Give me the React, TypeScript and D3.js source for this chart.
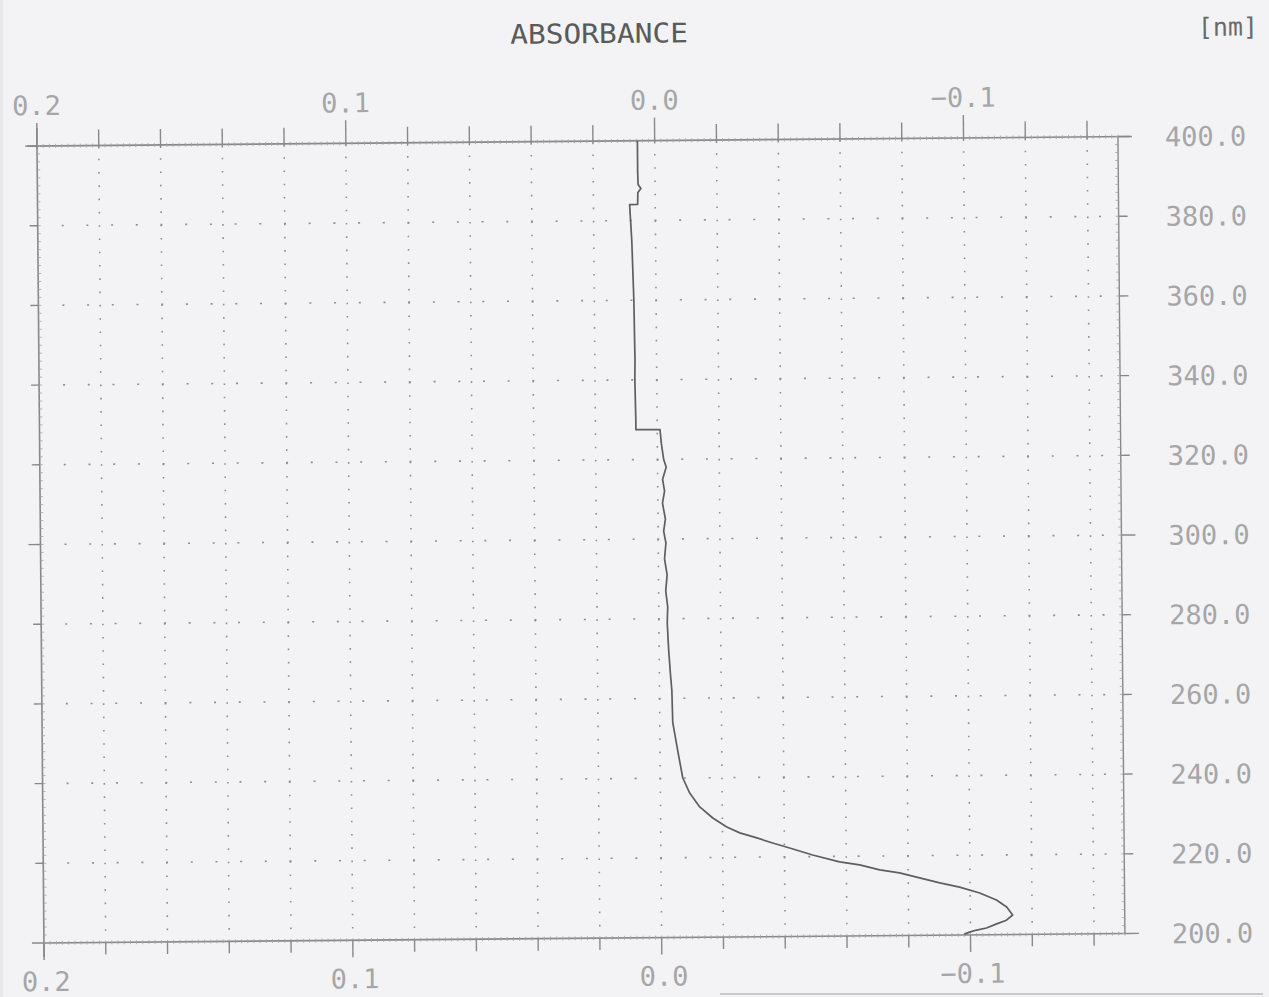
import React from 'react';
import * as d3 from 'd3';

// ---- data ----
const wavelengths = [
  400, 392, 389, 388, 387, 384, 384, 375, 360, 345, 340, 330, 327.5, 327.5,
  324, 320, 318, 315, 312, 309, 305, 302, 299, 295, 291, 287, 283, 279, 272,
  266, 262, 254, 247, 240, 236.2, 232.7, 229.9, 227.6, 226.1, 224.8, 223.5,
  222.2, 220.4, 218.6, 217.8, 216.5, 215.7, 214.4, 213.1, 212.0, 210.5, 208.7,
  206.9, 204.9, 203.6, 202.7, 201.7, 201.2, 200.7, 200.2,
];
const absorbance = [
  0.0056, 0.0056, 0.0055, 0.0046, 0.0056, 0.0057, 0.0083, 0.0077, 0.0072, 0.0070,
  0.0071, 0.0069, 0.0069, -0.0009,
  -0.0013, -0.0020, -0.0028, -0.0016, -0.0022, -0.0015, -0.0024, -0.0018, -0.0025,
  -0.0020, -0.0028, -0.0023, -0.0029, -0.0027, -0.0031,
  -0.0036, -0.0040, -0.0042, -0.0057, -0.0073, -0.0095, -0.0127, -0.0169, -0.0214,
  -0.0256, -0.0311, -0.0362, -0.0417, -0.0491, -0.0578, -0.0643, -0.0708, -0.0772,
  -0.0837, -0.0902, -0.0966, -0.1031, -0.1085, -0.1118, -0.1137, -0.1117, -0.1085,
  -0.1052, -0.1020, -0.0997, -0.0980,
];
const xLabelValues = [0.2, 0.1, 0.0, -0.1];
const xLabels = ['0.2', '0.1', '0.0', '\u22120.1'];
const yLabelValues = [400, 380, 360, 340, 320, 300, 280, 260, 240, 220, 200];
const yLabels = ['400.0', '380.0', '360.0', '340.0', '320.0', '300.0', '280.0', '260.0', '240.0', '220.0', '200.0'];
const titleText = 'ABSORBANCE';
const unitText = '[nm]';

const W = 1269;
const H = 997;
const L = 37, R = 1118, T = 146, B = 943;

export default function App() {
  const x = d3.scaleLinear().domain([0.2, -0.15]).range([L, R]);
  const y = d3.scaleLinear().domain([400, 200]).range([T, B]);

  const xTicks = d3.range(-7, 11).map((i) => ({ v: i * 0.02, major: i % 5 === 0 }));
  const xGrid = d3.range(-7, 10).map((i) => i * 0.02);
  const xMicro = d3.range(-75, 101).map((i) => i * 0.002);
  const yTicks = d3.range(0, 11).map((i) => ({ v: 200 + i * 20, major: i % 5 === 0 }));
  const yGrid = d3.range(1, 10).map((i) => 200 + i * 20);
  const yMicro = d3.range(0, 101).map((i) => 200 + i * 2);

  const pts = wavelengths.map((w, i) => [absorbance[i], w] as [number, number]);
  const line = d3.line<[number, number]>().x((d) => x(d[0])).y((d) => y(d[1]));

  const axisCol = '#888888';
  const microCol = '#a4a4a4';
  const gridCol = '#8f8f8f';
  const numCol = '#a6a6a8';
  const font = '"DejaVu Sans Mono", monospace';

  const vDot = (y(380) - y(400)) / 6;

  return (
    <svg width={W} height={H} style={{ position: 'absolute', left: 0, top: 0, display: 'block' }}>
      <rect x={0} y={0} width={W} height={H} fill="#f3f3f5" />
      <rect x={0} y={0} width={3} height={H} fill="#e8e8ea" />
      <line x1={720} x2={1263} y1={994} y2={994} stroke="#bdbdbf" strokeWidth={1.5} />
      <g transform={`rotate(-0.5, ${L}, ${T})`}>
        {/* grid */}
        {xGrid.map((v, i) => (
          <line key={'gx' + i} x1={x(v)} x2={x(v)} y1={T + vDot} y2={B}
            stroke={gridCol} strokeWidth={1.6} strokeDasharray={`1.6 ${vDot - 1.6}`} />
        ))}
        {yGrid.map((v, i) => (
          <line key={'gy' + i} x1={L + 24} x2={R} y1={y(v)} y2={y(v)}
            stroke={gridCol} strokeWidth={1.6} strokeDasharray="2 22.7" />
        ))}

        {/* frame */}
        <line x1={L - 10} x2={R + 12} y1={T} y2={T} stroke={axisCol} strokeWidth={1.6} />
        <line x1={L} x2={R} y1={B} y2={B} stroke={axisCol} strokeWidth={1.6} />
        <line x1={L} x2={L} y1={T - 18} y2={B + 14} stroke={axisCol} strokeWidth={1.6} />
        <line x1={R} x2={R} y1={T} y2={B} stroke={axisCol} strokeWidth={1.4} />

        {/* micro ticks */}
        {xMicro.map((v, i) => (
          <g key={'mx' + i}>
            <line x1={x(v)} x2={x(v)} y1={T - 2} y2={T + 2} stroke={microCol} strokeWidth={0.8} />
            <line x1={x(v)} x2={x(v)} y1={B - 2} y2={B + 2} stroke={microCol} strokeWidth={0.8} />
          </g>
        ))}
        {yMicro.map((v, i) => (
          <g key={'my' + i}>
            <line x1={L} x2={L + 3} y1={y(v)} y2={y(v)} stroke={microCol} strokeWidth={0.8} />
            <line x1={R - 3} x2={R} y1={y(v)} y2={y(v)} stroke={microCol} strokeWidth={0.8} />
          </g>
        ))}

        {/* x ticks */}
        {xTicks.map((t, i) => (
          <g key={'xt' + i}>
            <line x1={x(t.v)} x2={x(t.v)} y1={T - (t.major ? 23 : 16)} y2={T + 3} stroke={axisCol} strokeWidth={1.4} />
            <line x1={x(t.v)} x2={x(t.v)} y1={B} y2={B + (t.major ? 17 : 12)} stroke={axisCol} strokeWidth={1.4} />
          </g>
        ))}
        {/* y ticks */}
        {yTicks.map((t, i) => (
          <g key={'yt' + i}>
            <line x1={L - (t.major ? 12 : 8)} x2={L} y1={y(t.v)} y2={y(t.v)} stroke={axisCol} strokeWidth={1.4} />
            <line x1={R} x2={R + (t.major ? 14 : 9)} y1={y(t.v)} y2={y(t.v)} stroke={axisCol} strokeWidth={1.4} />
          </g>
        ))}

        {/* labels */}
        {xLabelValues.map((v, i) => (
          <g key={'xl' + i}>
            <text x={x(v)} y={T - 31} textAnchor="middle" fontFamily={font} fontSize={27} fill={numCol}>{xLabels[i]}</text>
            <text x={x(v) + 2} y={B + 48} textAnchor="middle" fontFamily={font} fontSize={27} fill={numCol}>{xLabels[i]}</text>
          </g>
        ))}
        {yLabelValues.map((v, i) => (
          <text key={'yl' + i} x={R + 47} y={y(v) + 10} fontFamily={font} fontSize={27} fill={numCol}>{yLabels[i]}</text>
        ))}
        <text x={600} y={48} textAnchor="middle" fontFamily={font} fontSize={27} fill="#5a5a5a"
          textLength={178} lengthAdjust="spacingAndGlyphs">{titleText}</text>
        <text x={1199} y={46} fontFamily={font} fontSize={25} fill="#6a6a6a"
          textLength={60} lengthAdjust="spacingAndGlyphs">{unitText}</text>

        {/* spectrum */}
        <path d={line(pts) || ''} fill="none" stroke="#5e5e5e" strokeWidth={1.7} strokeLinejoin="round" />
      </g>
    </svg>
  );
}
